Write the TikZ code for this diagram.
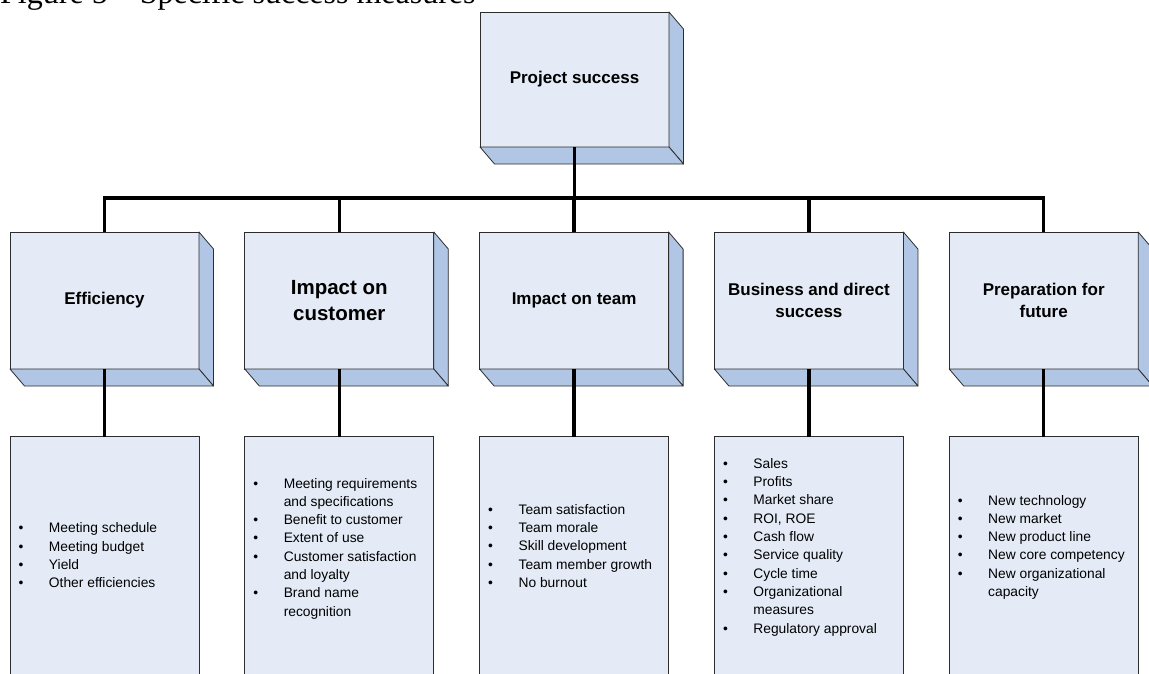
\documentclass[tikz,border=0pt]{standalone}
\usepackage{fontspec}
\setmainfont{Liberation Serif}
\newfontfamily\arial{Liberation Sans}
\definecolor{facecol}{RGB}{228,235,246}
\definecolor{sidecol}{RGB}{176,198,228}
\definecolor{edgecol}{RGB}{45,45,45}
\newcommand\bl{\makebox[30.4pt][l]{\textbullet}}
\newcommand\ind{\hspace*{30.4pt}}
\tikzset{
  facebox/.style={draw=edgecol, fill=facecol, line width=0.8pt, minimum width=189pt,
    minimum height=137pt, inner sep=0pt, outer sep=0pt, align=center,
    font=\arial\bfseries\fontsize{17}{22.7}\selectfont},
  listbox/.style={draw=edgecol, fill=facecol, line width=0.8pt, minimum width=189pt,
    minimum height=300pt, inner sep=0pt, outer sep=0pt, anchor=north},
  listtext/.style={anchor=base west, inner sep=0pt, outer sep=0pt,
    font=\arial\fontsize{13.8}{18.3}\selectfont},
  conn/.style={line width=3.3pt, black},
  sidefill/.style={fill=sidecol, draw=edgecol, line width=0.8pt, line join=round}
}
\begin{document}
\begin{tikzpicture}[x=1pt,y=-1pt]
\clip (0,0) rectangle (1149,673);
% title
\node[anchor=base west, inner sep=0pt, font=\fontsize{32}{38}\selectfont] (title) at (0,3.3) {Figure 5 – Specific success measures};
% boxes
\node[facebox, minimum height=135pt] (top) at (574.5,79.5) {Project success};
\node[facebox] (eff) at (104.5,300.5) {Efficiency};
\node[facebox, font=\arial\bfseries\fontsize{20.5}{26}\selectfont] (cust) at (339.3,300.5) {Impact on\\customer};
\node[facebox] (team) at (574.1,300.5) {Impact on team};
\node[facebox] (biz) at (808.9,300.5) {Business and direct\\success};
\node[facebox] (prep) at (1043.7,300.5) {Preparation for\\future};
\foreach \n in {top,eff,cust,team,biz,prep}{
  \filldraw[sidefill] (\n.north east) -- ([shift={(14.5,17)}]\n.north east)
     -- ([shift={(14.5,17)}]\n.south east) -- (\n.south east) -- cycle;
  \filldraw[sidefill] (\n.south west) -- ([shift={(14.5,17)}]\n.south west)
     -- ([shift={(14.5,17)}]\n.south east) -- (\n.south east) -- cycle;
}
% list boxes
\node[listbox] (effL) at (104.5,436.7) {};
\node[listbox] (custL) at (339.3,436.7) {};
\node[listbox] (teamL) at (574.1,436.7) {};
\node[listbox] (bizL) at (808.9,436.7) {};
\node[listbox] (prepL) at (1043.7,436.7) {};
% list texts
\node[listtext] (effT) at ([shift={(8.6,96)}]effL.north west) {\parbox[t]{180pt}{%
\bl Meeting schedule\\
\bl Meeting budget\\
\bl Yield\\
\bl Other efficiencies}};
\node[listtext] (custT) at ([shift={(8.6,51.3)}]custL.north west) {\parbox[t]{180pt}{%
\bl Meeting requirements\\
\ind and specifications\\
\bl Benefit to customer\\
\bl Extent of use\\
\bl Customer satisfaction\\
\ind and loyalty\\
\bl Brand name\\
\ind recognition}};
\node[listtext] (teamT) at ([shift={(8.6,77.6)}]teamL.north west) {\parbox[t]{180pt}{%
\bl Team satisfaction\\
\bl Team morale\\
\bl Skill development\\
\bl Team member growth\\
\bl No burnout}};
\node[listtext] (bizT) at ([shift={(8.6,31.6)}]bizL.north west) {\parbox[t]{180pt}{%
\bl Sales\\
\bl Profits\\
\bl Market share\\
\bl ROI, ROE\\
\bl Cash flow\\
\bl Service quality\\
\bl Cycle time\\
\bl Organizational\\
\ind measures\\
\bl Regulatory approval}};
\node[listtext] (prepT) at ([shift={(8.6,68.3)}]prepL.north west) {\parbox[t]{180pt}{%
\bl New technology\\
\bl New market\\
\bl New product line\\
\bl New core competency\\
\bl New organizational\\
\ind capacity}};
% connectors
\coordinate (busline) at (574.1,198);
\draw[conn] (top.south) -- (top.south |- busline);
\draw[conn] (eff.north) -- (eff.north |- busline) -- (prep.north |- busline) -- (prep.north);
\draw[conn] (cust.north) -- (cust.north |- busline);
\draw[conn] (team.north) -- (team.north |- busline);
\draw[conn] (biz.north) -- (biz.north |- busline);
\foreach \n in {eff,cust,team,biz,prep}{
  \draw[conn] (\n.south) -- (\n L.north);
}
\end{tikzpicture}
\end{document}
